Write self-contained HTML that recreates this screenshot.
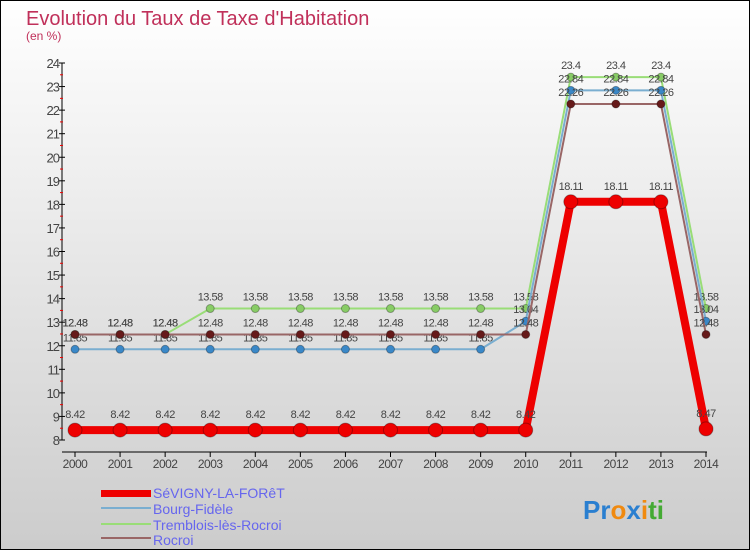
<!DOCTYPE html>
<html><head><meta charset="utf-8"><style>
html,body{margin:0;padding:0}
body{width:750px;height:550px;overflow:hidden;font-family:"Liberation Sans",sans-serif}
#wrap{position:relative;width:748px;height:548px;border:1px solid #000;background:linear-gradient(#fff,#ccc)}
</style></head><body>
<div id="wrap">
<svg id="chart" width="748" height="548" style="position:absolute;left:0;top:0">
<text x="25" y="24" font-size="20" fill="#c0305a">Evolution du Taux de Taxe d'Habitation</text>
<text x="25" y="39" font-size="12" fill="#c0305a">(en %)</text>
<g id="axes"></g><g id="series"></g>
<g font-size="14" fill="#6666ee">
<rect x="100" y="489" width="50" height="7" fill="#e00"/>
<text x="152" y="497">SéVIGNY-LA-FORêT</text>
<rect x="100" y="506" width="50" height="2" fill="#7aaed0"/>
<text x="152" y="513">Bourg-Fidèle</text>
<rect x="100" y="522" width="50" height="2" fill="#99dd77"/>
<text x="152" y="529">Tremblois-lès-Rocroi</text>
<rect x="100" y="536" width="50" height="2" fill="#996666"/>
<text x="152" y="544">Rocroi</text>
</g>
<text x="582" y="518" font-size="26" font-weight="bold"><tspan fill="#2a7fd0">Pr</tspan><tspan fill="#f08a10">o</tspan><tspan fill="#2a7fd0">x</tspan><tspan fill="#f08a10">i</tspan><tspan fill="#44aa33">ti</tspan></text>
</svg></div>
<script>
const years=[2000,2001,2002,2003,2004,2005,2006,2007,2008,2009,2010,2011,2012,2013,2014];
const sevigny=[8.42,8.42,8.42,8.42,8.42,8.42,8.42,8.42,8.42,8.42,8.42,18.11,18.11,18.11,8.47];
const bourg=[11.85,11.85,11.85,11.85,11.85,11.85,11.85,11.85,11.85,11.85,13.04,22.84,22.84,22.84,13.04];
const tremblois=[12.48,12.48,12.48,13.58,13.58,13.58,13.58,13.58,13.58,13.58,13.58,23.4,23.4,23.4,13.58];
const rocroi=[12.48,12.48,12.48,12.48,12.48,12.48,12.48,12.48,12.48,12.48,12.48,22.26,22.26,22.26,12.48];
const yTicks=[8,9,10,11,12,13,14,15,16,17,18,19,20,21,22,23,24];
const NS="http://www.w3.org/2000/svg";
const x=i=>74+i*(631/(years.length-1));
const y=v=>439-(v-8)*(377/16);
function mk(t,a,p){const e=document.createElementNS(NS,t);for(const k in a)e.setAttribute(k,a[k]);p.appendChild(e);return e;}
const ax=document.getElementById('axes');
let e=mk('line',{x1:61,y1:y(24),x2:61,y2:y(8),stroke:'#000'},ax);


e=mk('line',{x1:61,y1:451,x2:706,y2:451,stroke:'#000'},ax);


yTicks.forEach((v,i)=>{
 mk('line',{x1:58,y1:y(v),x2:64,y2:y(v),stroke:'#000'},ax);
 if(i<yTicks.length-1) mk('line',{x1:59,y1:y(v+0.5),x2:62,y2:y(v+0.5),stroke:'#e00'},ax);
 const t=mk('text',{x:58,y:y(v)+5,'font-size':13,fill:'#444','text-anchor':'end','letter-spacing':'-1'},ax);
 t.textContent=v;
 
 
});
years.forEach((yr,i)=>{
 mk('line',{x1:x(i),y1:451,x2:x(i),y2:456,stroke:'#000'},ax);
 const t=mk('text',{x:x(i),y:467,'font-size':12,fill:'#444','text-anchor':'middle','letter-spacing':'-0.5'},ax);
 t.textContent=yr;
 
 
});
const sg=document.getElementById('series');
function draw(data,color,dot,w,r,name,labelDy){
 const g=mk('g',{},sg);
 
 
 const p=mk('polyline',{points:data.map((v,i)=>x(i)+','+y(v)).join(' '),fill:'none',stroke:color,'stroke-width':w,'stroke-linejoin':'round'},g);
 
 
 data.forEach((v,i)=>{
  const c=mk('circle',{cx:x(i),cy:y(v),r:r,fill:dot,stroke:'rgba(0,0,0,0.3)'},g);
  
  
  const t=mk('text',{x:x(i),y:y(v)+labelDy,'font-size':11,fill:'#444','text-anchor':'middle','letter-spacing':'-0.5'},g);
  t.textContent=v;
  
  
 });
}
draw(tremblois,'#99dd77','#88cc66',2,4,'tremblois',-8);
draw(bourg,'#7aaed0','#3a88c8',2,4,'bourg',-8);
draw(rocroi,'#996666','#661a1a',2,4,'rocroi',-8);
draw(sevigny,'#ee0000','#ee0000',8,7,'sevigny',-12);
</script>
</body></html>
